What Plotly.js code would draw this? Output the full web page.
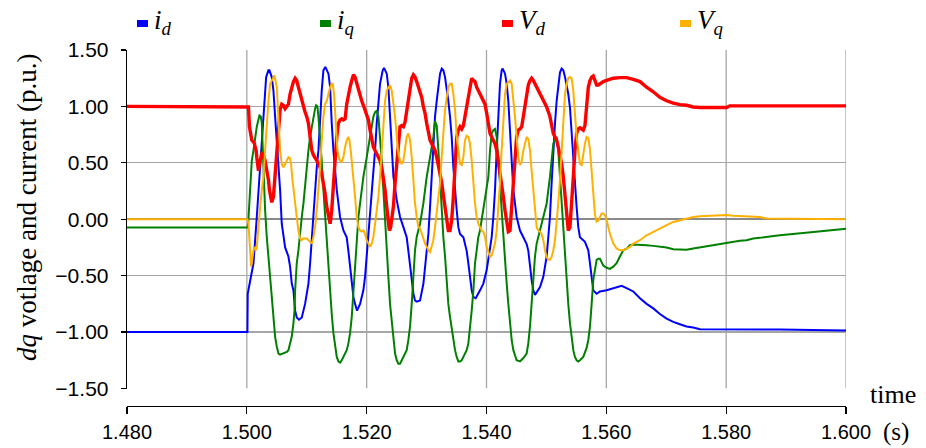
<!DOCTYPE html>
<html>
<head>
<meta charset="utf-8">
<script src="https://cdn.plot.ly/plotly-3.0.1.min.js"></script>
<style>html,body{margin:0;padding:0;background:#fff;}#chart{width:926px;height:448px;}</style>
</head>
<body>
<div id="chart"></div>
<script>
// ---------- data (time in s, values in p.u.) ----------
const seriesNames = ['<i>i</i><sub><i>d</i></sub>', '<i>i</i><sub><i>q</i></sub>', '<i>V</i><sub><i>d</i></sub>', '<i>V</i><sub><i>q</i></sub>'];
const seriesColors = ['#0000ff', '#008000', '#ff0000', '#ffb000'];
const xTicks = [1.48, 1.50, 1.52, 1.54, 1.56, 1.58, 1.60];
const yTicks = [-1.5, -1.0, -0.5, 0.0, 0.5, 1.0, 1.5];

const tId = [
1.48, 1.5001, 1.50015, 1.5005, 1.50111, 1.50166, 1.50222, 1.50277, 1.50322, 1.5036,
1.50377, 1.50416, 1.50444, 1.50472, 1.50511, 1.50555, 1.50583, 1.50639, 1.50694, 1.50722,
1.5075, 1.50778, 1.50806, 1.50833, 1.5087, 1.50917, 1.50972, 1.51028, 1.51056, 1.51084,
1.51111, 1.51139, 1.51167, 1.51195, 1.51223, 1.5125, 1.51278, 1.5131, 1.51362, 1.5139,
1.51417, 1.51445, 1.51501, 1.51556, 1.51612, 1.51667, 1.51695, 1.51723, 1.51751, 1.51779,
1.51806, 1.5184, 1.5189, 1.51945, 1.51973, 1.52001, 1.52029, 1.52085, 1.5214, 1.52168,
1.52223, 1.52268, 1.5229, 1.52335, 1.52362, 1.5239, 1.52418, 1.52446, 1.52502, 1.52557,
1.52613, 1.52668, 1.52696, 1.52724, 1.52752, 1.5278, 1.52807, 1.52835, 1.52891, 1.52947,
1.53002, 1.5303, 1.53058, 1.53086, 1.53113, 1.53141, 1.53169, 1.53197, 1.53225, 1.53253,
1.5328, 1.53308, 1.53336, 1.53363, 1.53391, 1.53419, 1.53447, 1.53475, 1.53503, 1.5353,
1.53558, 1.53614, 1.53641, 1.53669, 1.53697, 1.53725, 1.53753, 1.53781, 1.5382, 1.53892,
1.53947, 1.54003, 1.54059, 1.54086, 1.54114, 1.54142, 1.5417, 1.54197, 1.54225, 1.54253,
1.5427, 1.54309, 1.54337, 1.54364, 1.54392, 1.5442, 1.54448, 1.54503, 1.54559, 1.54615,
1.5467, 1.54698, 1.54726, 1.54753, 1.54781, 1.5481, 1.54893, 1.54948, 1.55004, 1.55031,
1.55059, 1.55087, 1.55115, 1.55143, 1.55171, 1.55198, 1.55226, 1.55254, 1.55282, 1.5531,
1.55337, 1.55365, 1.55393, 1.55421, 1.55449, 1.55476, 1.55504, 1.55532, 1.5556, 1.55643,
1.55699, 1.55727, 1.55755, 1.55782, 1.55838, 1.55894, 1.56005, 1.56116, 1.56255, 1.56338,
1.5645, 1.56561, 1.56672, 1.56783, 1.56894, 1.57006, 1.57117, 1.57228, 1.57339, 1.5745,
1.57562, 1.5889, 1.6];
const idVals = [
-1.0, -1.0, -0.66, -0.55, -0.39, 0.02, 0.46, 0.91, 1.26, 1.32,
1.32, 1.26, 1.14, 0.91, 0.61, 0.26, -0.04, -0.25, -0.33, -0.42,
-0.57, -0.63, -0.81, -0.87, -0.89, -0.87, -0.75, -0.57, -0.39, -0.16,
0.02, 0.26, 0.46, 0.61, 0.91, 1.14, 1.32, 1.35, 1.29, 1.17,
0.85, 0.61, 0.26, 0.02, -0.10, -0.16, -0.28, -0.42, -0.57, -0.69,
-0.75, -0.81, -0.75, -0.63, -0.51, -0.33, -0.10, 0.26, 0.61, 0.85,
1.20, 1.32, 1.34, 1.29, 1.17, 0.91, 0.61, 0.38, 0.17, 0.02,
-0.07, -0.16, -0.28, -0.42, -0.57, -0.66, -0.72, -0.73, -0.72, -0.57,
-0.28, -0.13, 0.11, 0.38, 0.61, 0.91, 1.05, 1.20, 1.29, 1.335,
1.32, 1.26, 1.17, 1.05, 0.91, 0.73, 0.46, 0.23, 0.08, -0.07,
-0.13, -0.16, -0.22, -0.28, -0.39, -0.51, -0.63, -0.69, -0.70, -0.63,
-0.57, -0.45, -0.28, -0.16, 0.02, 0.26, 0.61, 0.97, 1.20, 1.32,
1.335, 1.29, 1.20, 1.05, 0.76, 0.46, 0.26, 0.02, -0.10, -0.16,
-0.22, -0.28, -0.42, -0.54, -0.63, -0.67, -0.60, -0.51, -0.33, -0.16,
0.02, 0.32, 0.61, 0.85, 1.05, 1.20, 1.30, 1.335, 1.32, 1.26,
1.20, 1.11, 0.99, 0.76, 0.46, 0.31, 0.11, -0.07, -0.16, -0.20,
-0.275, -0.39, -0.51, -0.63, -0.66, -0.64, -0.63, -0.61, -0.59, -0.61,
-0.64, -0.70, -0.75, -0.79, -0.84, -0.88, -0.91, -0.93, -0.95, -0.96,
-0.975, -0.978, -0.985];

const tIq = [
1.48, 1.5001, 1.50022, 1.50044, 1.50083, 1.50111, 1.50138, 1.50166, 1.5021, 1.50233,
1.5025, 1.50266, 1.50289, 1.50305, 1.50333, 1.50361, 1.50389, 1.50416, 1.50444, 1.50472,
1.505, 1.50528, 1.50555, 1.50611, 1.50667, 1.50694, 1.50722, 1.5075, 1.50778, 1.50795,
1.50806, 1.50833, 1.50861, 1.50889, 1.50917, 1.50945, 1.50972, 1.51, 1.51028, 1.51056,
1.51084, 1.51111, 1.51139, 1.51156, 1.51178, 1.51195, 1.51223, 1.5125, 1.51278, 1.51306,
1.51334, 1.51362, 1.5139, 1.51417, 1.51445, 1.51473, 1.51501, 1.51528, 1.51556, 1.51584,
1.51612, 1.51667, 1.51695, 1.51723, 1.51751, 1.51779, 1.51806, 1.51834, 1.51862, 1.5189,
1.51917, 1.51945, 1.52001, 1.52057, 1.52112, 1.5214, 1.52168, 1.52196, 1.52223, 1.52251,
1.52279, 1.52307, 1.52335, 1.52362, 1.5239, 1.52418, 1.52446, 1.52474, 1.52502, 1.52529,
1.52557, 1.52585, 1.52613, 1.52668, 1.52696, 1.52724, 1.52752, 1.5278, 1.52807, 1.52835,
1.52891, 1.52946, 1.53002, 1.53058, 1.53113, 1.53141, 1.53169, 1.53197, 1.53225, 1.53252,
1.5328, 1.53308, 1.53336, 1.53363, 1.53391, 1.53419, 1.53447, 1.53475, 1.53503, 1.5353,
1.53558, 1.53586, 1.53614, 1.53669, 1.53697, 1.53725, 1.53753, 1.53781, 1.53808, 1.53836,
1.53864, 1.53892, 1.53947, 1.54003, 1.54031, 1.54059, 1.54086, 1.54114, 1.54142, 1.5417,
1.54197, 1.54225, 1.54253, 1.54281, 1.54309, 1.54337, 1.54364, 1.54392, 1.5442, 1.54448,
1.54503, 1.54559, 1.54615, 1.5467, 1.54698, 1.54726, 1.54753, 1.54781, 1.54809, 1.54837,
1.54893, 1.54948, 1.55004, 1.55059, 1.55087, 1.55115, 1.55143, 1.55171, 1.55198, 1.55226,
1.55254, 1.55282, 1.5531, 1.55337, 1.55365, 1.55393, 1.55421, 1.55449, 1.55476, 1.55504,
1.55532, 1.5556, 1.55615, 1.55671, 1.55699, 1.55727, 1.55755, 1.55782, 1.5581, 1.55838,
1.55865, 1.55893, 1.55921, 1.55949, 1.56005, 1.5606, 1.56116, 1.56171, 1.56227, 1.56283,
1.56338, 1.56394, 1.5645, 1.56561, 1.56672, 1.56783, 1.56894, 1.57006, 1.57117, 1.57228,
1.57339, 1.5745, 1.57562, 1.57673, 1.57784, 1.57896, 1.58006, 1.58118, 1.58229, 1.5834,
1.58451, 1.58562, 1.58674, 1.58785, 1.58896, 1.595, 1.6];
const iqVals = [
-0.074, -0.074, -0.04, 0.20, 0.52, 0.61, 0.70, 0.82, 0.92, 0.91,
0.85, 0.61, 0.32, 0.08, -0.16, -0.33, -0.51, -0.63, -0.865, -1.04,
-1.13, -1.19, -1.20, -1.19, -1.175, -1.16, -1.10, -1.04, -0.92, -0.81,
-0.63, -0.39, -0.275, -0.10, 0.02, 0.14, 0.32, 0.49, 0.61, 0.73,
0.82, 0.91, 0.98, 1.01, 1.00, 0.91, 0.73, 0.52, 0.26, 0.02,
-0.22, -0.42, -0.63, -0.84, -1.01, -1.13, -1.22, -1.26, -1.27, -1.25,
-1.22, -1.16, -1.10, -1.01, -0.865, -0.63, -0.42, -0.16, 0.02, 0.14,
0.26, 0.375, 0.55, 0.73, 0.91, 0.95, 0.96, 0.91, 0.73, 0.52,
0.26, -0.04, -0.275, -0.51, -0.75, -0.92, -1.07, -1.19, -1.25, -1.28,
-1.28, -1.25, -1.22, -1.16, -1.07, -0.95, -0.75, -0.45, -0.275, -0.157,
-0.04, 0.14, 0.375, 0.55, 0.73, 0.87, 0.83, 0.61, 0.32, 0.08,
-0.16, -0.33, -0.57, -0.75, -0.865, -0.98, -1.07, -1.16, -1.22, -1.26,
-1.26, -1.25, -1.22, -1.16, -1.10, -0.98, -0.81, -0.63, -0.39, -0.275,
-0.157, -0.097, 0.08, 0.257, 0.375, 0.61, 0.76, 0.79, 0.80, 0.73,
0.55, 0.32, 0.08, -0.157, -0.39, -0.57, -0.75, -0.92, -1.07, -1.16,
-1.25, -1.26, -1.23, -1.19, -1.10, -0.95, -0.75, -0.51, -0.33, -0.216,
-0.097, 0.02, 0.14, 0.375, 0.55, 0.67, 0.71, 0.73, 0.61, 0.375,
0.14, -0.097, -0.33, -0.57, -0.75, -0.92, -1.07, -1.16, -1.22, -1.25,
-1.26, -1.25, -1.22, -1.14, -1.07, -0.95, -0.75, -0.54, -0.45, -0.36,
-0.35, -0.35, -0.38, -0.41, -0.43, -0.44, -0.42, -0.39, -0.33, -0.275,
-0.26, -0.23, -0.224, -0.224, -0.23, -0.236, -0.245, -0.25, -0.266, -0.27,
-0.27, -0.26, -0.25, -0.24, -0.23, -0.216, -0.21, -0.20, -0.19, -0.186,
-0.17, -0.165, -0.157, -0.145, -0.142, -0.11, -0.085];

const tVd = [
1.48, 1.5001, 1.50027, 1.50044, 1.50055, 1.50072, 1.50083, 1.50111, 1.50127, 1.50138,
1.50155, 1.50166, 1.50178, 1.50194, 1.5021, 1.50233, 1.5025, 1.50277, 1.50305, 1.50333,
1.50361, 1.50377, 1.504, 1.50416, 1.50444, 1.50461, 1.50489, 1.50511, 1.50528, 1.50555,
1.50583, 1.50611, 1.50639, 1.50667, 1.50694, 1.50722, 1.5075, 1.50778, 1.50806, 1.50833,
1.50861, 1.50889, 1.50917, 1.50945, 1.50972, 1.51, 1.51028, 1.51056, 1.51084, 1.51111,
1.51139, 1.51167, 1.51195, 1.51223, 1.5125, 1.51278, 1.51306, 1.51334, 1.51362, 1.5139,
1.51417, 1.51445, 1.51473, 1.51501, 1.51528, 1.51556, 1.51584, 1.51612, 1.5164, 1.51667,
1.51695, 1.51723, 1.51751, 1.51779, 1.51806, 1.51834, 1.51862, 1.5189, 1.51917, 1.51945,
1.51973, 1.52001, 1.52029, 1.52057, 1.52085, 1.52112, 1.5214, 1.52168, 1.52196, 1.52223,
1.52251, 1.52279, 1.52307, 1.52335, 1.52362, 1.52379, 1.52401, 1.52418, 1.52446, 1.52474,
1.52502, 1.52529, 1.52557, 1.52585, 1.52613, 1.5264, 1.52668, 1.52696, 1.52724, 1.52752,
1.5278, 1.52807, 1.52835, 1.52863, 1.52891, 1.52919, 1.52947, 1.52974, 1.53002, 1.5303,
1.53058, 1.53086, 1.53113, 1.53141, 1.53169, 1.53197, 1.53225, 1.53252, 1.5328, 1.53308,
1.53336, 1.53363, 1.53391, 1.53419, 1.53447, 1.53475, 1.53503, 1.5353, 1.53558, 1.53586,
1.53614, 1.53641, 1.53669, 1.53697, 1.53725, 1.53753, 1.53781, 1.53808, 1.53836, 1.53864,
1.53892, 1.53919, 1.53947, 1.53975, 1.54003, 1.54031, 1.54059, 1.54086, 1.54114, 1.54142,
1.5417, 1.54197, 1.54225, 1.54253, 1.54281, 1.54309, 1.54337, 1.54364, 1.54392, 1.5442,
1.54448, 1.54475, 1.54503, 1.54531, 1.54559, 1.54587, 1.54615, 1.54642, 1.5467, 1.54698,
1.54726, 1.54753, 1.54781, 1.54809, 1.54837, 1.54865, 1.54893, 1.5492, 1.54948, 1.55004,
1.55059, 1.55087, 1.55115, 1.55143, 1.55171, 1.55198, 1.55226, 1.55254, 1.55282, 1.5531,
1.55337, 1.55365, 1.55393, 1.55421, 1.55449, 1.55476, 1.55504, 1.55532, 1.5556, 1.55588,
1.55615, 1.55643, 1.55671, 1.55699, 1.55727, 1.55755, 1.55782, 1.5581, 1.55838, 1.55866,
1.55894, 1.55949, 1.56005, 1.56116, 1.56227, 1.56338, 1.5645, 1.56561, 1.56672, 1.56783,
1.56894, 1.57006, 1.57117, 1.57228, 1.57339, 1.5745, 1.57562, 1.58006, 1.5806, 1.6];
const vdVals = [
1.0, 1.0, 0.995, 0.82, 0.79, 0.73, 0.70, 0.685, 0.67, 0.64,
0.61, 0.55, 0.49, 0.43, 0.49, 0.55, 0.58, 0.57, 0.52, 0.43,
0.35, 0.26, 0.17, 0.15, 0.20, 0.32, 0.52, 0.64, 0.82, 0.97,
1.02, 1.01, 0.98, 0.995, 1.02, 1.11, 1.17, 1.22, 1.25, 1.23,
1.17, 1.11, 1.05, 0.995, 0.95, 0.91, 0.85, 0.73, 0.61, 0.57,
0.55, 0.52, 0.49, 0.46, 0.40, 0.32, 0.23, 0.11, 0.02, -0.04,
0.08, 0.26, 0.52, 0.73, 0.85, 0.88, 0.89, 0.88, 0.89, 1.02,
1.11, 1.17, 1.23, 1.28, 1.26, 1.20, 1.14, 1.08, 1.05, 1.01,
0.97, 0.94, 0.88, 0.79, 0.70, 0.64, 0.61, 0.58, 0.55, 0.52,
0.46, 0.375, 0.26, 0.11, -0.04, -0.10, -0.07, -0.01, 0.11, 0.32,
0.52, 0.70, 0.82, 0.83, 0.82, 0.86, 0.97, 1.08, 1.17, 1.25,
1.28, 1.26, 1.22, 1.17, 1.14, 1.08, 0.995, 0.94, 0.85, 0.76,
0.70, 0.67, 0.64, 0.61, 0.55, 0.49, 0.40, 0.32, 0.20, 0.08,
-0.01, -0.10, -0.10, -0.01, 0.20, 0.49, 0.73, 0.79, 0.82, 0.80,
0.83, 0.91, 0.995, 1.11, 1.20, 1.25, 1.23, 1.22, 1.17, 1.14,
1.11, 1.08, 1.05, 1.02, 0.94, 0.82, 0.76, 0.73, 0.70, 0.67,
0.61, 0.52, 0.43, 0.32, 0.20, 0.08, -0.04, -0.11, -0.10, 0.08,
0.32, 0.52, 0.73, 0.79, 0.80, 0.82, 0.91, 1.02, 1.11, 1.19,
1.23, 1.25, 1.23, 1.20, 1.17, 1.14, 1.11, 1.08, 1.05, 0.995,
0.91, 0.82, 0.76, 0.73, 0.70, 0.64, 0.58, 0.49, 0.375, 0.20,
0.02, -0.10, -0.07, 0.11, 0.375, 0.61, 0.76, 0.80, 0.81, 0.80,
0.79, 0.83, 1.02, 1.17, 1.23, 1.26, 1.27, 1.22, 1.19, 1.19,
1.20, 1.22, 1.23, 1.25, 1.255, 1.255, 1.24, 1.22, 1.17, 1.13,
1.08, 1.05, 1.03, 1.016, 1.01, 0.995, 0.99, 0.99, 1.005, 1.005];

const tVq = [
1.48, 1.5001, 1.50027, 1.50044, 1.50055, 1.50072, 1.50089, 1.50111, 1.50138, 1.50155,
1.50166, 1.50194, 1.50222, 1.5025, 1.50277, 1.50305, 1.50333, 1.50361, 1.50389, 1.50416,
1.50444, 1.50461, 1.50478, 1.505, 1.50517, 1.50533, 1.50555, 1.50583, 1.50611, 1.50639,
1.50667, 1.50694, 1.50722, 1.50739, 1.50756, 1.50778, 1.50806, 1.50833, 1.50861, 1.50889,
1.50917, 1.50945, 1.51, 1.51028, 1.51056, 1.51084, 1.51111, 1.51139, 1.51167, 1.51195,
1.51223, 1.5125, 1.51278, 1.51306, 1.51334, 1.51362, 1.5139, 1.51417, 1.51434, 1.51456,
1.51473, 1.5149, 1.51512, 1.51534, 1.51556, 1.51584, 1.51612, 1.5164, 1.51667, 1.51695,
1.51712, 1.51734, 1.51756, 1.51779, 1.51806, 1.51834, 1.51862, 1.5189, 1.51917, 1.51945,
1.51973, 1.52001, 1.52029, 1.52057, 1.52085, 1.52112, 1.5214, 1.52168, 1.52196, 1.52223,
1.52251, 1.52279, 1.52307, 1.52335, 1.52362, 1.5239, 1.52418, 1.52446, 1.52474, 1.52502,
1.52529, 1.52557, 1.52585, 1.52613, 1.5264, 1.52668, 1.52696, 1.52724, 1.52752, 1.5278,
1.52807, 1.52835, 1.52863, 1.52891, 1.52919, 1.52947, 1.52974, 1.53002, 1.5303, 1.53058,
1.53086, 1.53113, 1.53141, 1.53169, 1.53197, 1.53225, 1.53252, 1.5328, 1.53308, 1.53336,
1.53363, 1.53391, 1.53419, 1.53447, 1.53475, 1.53503, 1.5353, 1.53558, 1.53586, 1.53614,
1.53641, 1.53669, 1.53697, 1.53725, 1.53753, 1.53781, 1.53808, 1.53836, 1.53864, 1.53892,
1.53919, 1.53947, 1.53975, 1.54003, 1.54031, 1.54059, 1.54086, 1.54114, 1.54142, 1.5417,
1.54197, 1.54225, 1.54253, 1.54281, 1.54309, 1.54337, 1.54364, 1.54392, 1.5442, 1.54448,
1.54475, 1.54503, 1.54531, 1.54559, 1.54587, 1.54615, 1.54642, 1.5467, 1.54698, 1.54726,
1.54753, 1.54781, 1.54809, 1.54837, 1.54865, 1.54893, 1.5492, 1.54948, 1.54976, 1.55004,
1.55031, 1.55059, 1.55087, 1.55115, 1.55143, 1.55171, 1.55198, 1.55226, 1.55254, 1.55282,
1.5531, 1.55337, 1.55365, 1.55393, 1.55421, 1.55449, 1.55476, 1.55504, 1.55532, 1.5556,
1.55588, 1.55615, 1.55643, 1.55671, 1.55699, 1.55727, 1.55755, 1.55782, 1.5581, 1.55838,
1.55866, 1.55894, 1.55921, 1.55949, 1.55977, 1.56005, 1.5606, 1.56116, 1.56171, 1.56227,
1.56283, 1.56338, 1.56394, 1.5645, 1.56561, 1.56672, 1.56783, 1.56894, 1.57006, 1.57117,
1.57228, 1.57339, 1.5745, 1.57562, 1.57673, 1.57784, 1.58006, 1.58118, 1.58229, 1.5834,
1.58562, 1.58674, 1.6];
const vqVals = [
0.0, 0.0, -0.04, -0.216, -0.33, -0.42, -0.36, -0.275, -0.245, -0.275,
-0.245, -0.04, 0.11, 0.26, 0.375, 0.61, 0.85, 1.05, 1.20, 1.23,
1.26, 1.275, 1.23, 1.17, 0.995, 0.76, 0.61, 0.49, 0.46, 0.49,
0.52, 0.55, 0.54, 0.49, 0.375, 0.26, 0.11, 0.02, -0.10, -0.17,
-0.186, -0.17, -0.17, -0.186, -0.20, -0.216, -0.157, -0.07, 0.08, 0.26,
0.46, 0.70, 0.91, 1.02, 1.05, 1.11, 1.17, 1.20, 1.20, 1.11,
0.97, 0.76, 0.61, 0.55, 0.52, 0.51, 0.55, 0.64, 0.70, 0.73,
0.70, 0.61, 0.46, 0.32, 0.20, 0.02, -0.07, -0.10, -0.11, -0.10,
-0.13, -0.186, -0.216, -0.245, -0.216, -0.157, -0.04, 0.08, 0.20, 0.375,
0.61, 0.91, 1.05, 1.14, 1.17, 1.19, 1.14, 1.02, 0.91, 0.73,
0.58, 0.52, 0.49, 0.52, 0.61, 0.73, 0.76, 0.70, 0.55, 0.32,
0.14, 0.02, -0.07, -0.08, -0.13, -0.17, -0.216, -0.245, -0.275, -0.29,
-0.245, -0.186, -0.07, 0.08, 0.20, 0.32, 0.55, 0.79, 0.97, 1.08,
1.17, 1.20, 1.20, 1.11, 0.97, 0.73, 0.61, 0.49, 0.48, 0.55,
0.70, 0.74, 0.73, 0.67, 0.52, 0.32, 0.14, 0.02, -0.04, -0.07,
-0.10, -0.11, -0.157, -0.245, -0.30, -0.334, -0.32, -0.275, -0.216, -0.10,
0.08, 0.32, 0.61, 0.91, 1.11, 1.20, 1.22, 1.23, 1.20, 1.08,
0.91, 0.73, 0.55, 0.48, 0.51, 0.61, 0.67, 0.73, 0.71, 0.61,
0.43, 0.26, 0.08, -0.07, -0.10, -0.11, -0.13, -0.186, -0.275, -0.334,
-0.36, -0.36, -0.334, -0.275, -0.186, -0.04, 0.14, 0.35, 0.61, 0.91,
1.11, 1.20, 1.25, 1.26, 1.25, 1.14, 0.91, 0.73, 0.61, 0.49,
0.48, 0.58, 0.67, 0.73, 0.72, 0.62, 0.42, 0.21, 0.04, -0.02,
-0.01, 0.02, 0.05, 0.05, 0.035, -0.01, -0.127, -0.216, -0.26, -0.275,
-0.275, -0.26, -0.245, -0.216, -0.186, -0.142, -0.11, -0.083, -0.053, -0.024,
-0.01, 0.006, 0.02, 0.027, 0.03, 0.035, 0.038, 0.032, 0.03, 0.027,
0.02, 0.006, 0.0];

// ---------- build ----------
const seriesX = [tId, tIq, tVd, tVq];
const seriesY = [idVals, iqVals, vdVals, vqVals];
const lineWidths = [2.0, 2.0, 3.4, 2.0];

const W = 926, H = 448, ML = 127, MR = 80, MT = 50, MB = 42;
const PW = W - ML - MR, PH = H - MT - MB;
const px = p => (p - ML) / PW;
const py = p => (H - MB - p) / PH;

const traces = seriesX.map((x, i) => ({
  x: x, y: seriesY[i], type: 'scatter', mode: 'lines',
  name: seriesNames[i], showlegend: false,
  line: {color: seriesColors[i], width: lineWidths[i]}
}));

const shapes = xTicks.filter(t => t > xTicks[0]).map(t => ({
  type: 'line', xref: 'x', yref: 'y', x0: t, x1: t, y0: yTicks[0], y1: yTicks[yTicks.length - 1],
  line: {color: '#a6a6a6', width: 1.3}, layer: 'below'
}));

const legendLeft = [137, 320, 502, 680];
legendLeft.forEach((lx, i) => {
  shapes.push({type: 'rect', xref: 'paper', yref: 'paper',
    x0: px(lx), x1: px(lx + 11), y0: py(27), y1: py(20),
    fillcolor: seriesColors[i], line: {width: 0}});
});

const serif = '"Liberation Serif", "Times New Roman", Times, serif';
const sans = '"Liberation Sans", Arial, Helvetica, sans-serif';
const annotations = legendLeft.map((lx, i) => ({
  xref: 'paper', yref: 'paper', x: px(lx + 15), y: py(22),
  xanchor: 'left', yanchor: 'middle', showarrow: false,
  text: seriesNames[i], font: {family: serif, size: 27, color: '#000'}
}));
annotations.push({xref: 'paper', yref: 'paper', x: px(27), y: py(208), xanchor: 'center', yanchor: 'middle',
  showarrow: false, textangle: -90, text: '<i>dq</i> votlage and current (p.u.)',
  font: {family: serif, size: 27, color: '#000'}});
annotations.push({xref: 'paper', yref: 'paper', x: px(893), y: py(394), xanchor: 'center', yanchor: 'middle',
  showarrow: false, text: 'time', font: {family: serif, size: 26, color: '#000'}});
annotations.push({xref: 'paper', yref: 'paper', x: px(896), y: py(432), xanchor: 'center', yanchor: 'middle',
  showarrow: false, text: '(s)', font: {family: serif, size: 25, color: '#000'}});

const layout = {
  width: W, height: H,
  margin: {l: ML, r: MR, t: MT, b: MB, pad: 0},
  paper_bgcolor: '#fff', plot_bgcolor: '#fff',
  showlegend: false,
  font: {family: sans, color: '#000'},
  xaxis: {
    anchor: 'free', position: 0, range: [xTicks[0], xTicks[xTicks.length - 1]],
    tickmode: 'array', tickvals: xTicks, tickformat: '.3f',
    showgrid: false, zeroline: false,
    showline: true, linecolor: '#000', linewidth: 1.3,
    ticks: 'outside', ticklen: 7, tickwidth: 1.3, tickcolor: '#000',
    ticklabelstandoff: 1,
    tickfont: {family: sans, size: 20, color: '#000'}
  },
  yaxis: {
    domain: [py(388.5), 1], range: [yTicks[0], yTicks[yTicks.length - 1]],
    tickmode: 'array', tickvals: yTicks, tickformat: '.2f',
    showgrid: true, gridcolor: '#a6a6a6', gridwidth: 1.3,
    zeroline: true, zerolinecolor: '#8a8a8a', zerolinewidth: 1.6,
    showline: true, linecolor: '#000', linewidth: 1.3,
    ticks: 'outside', ticklen: 5, tickwidth: 1.3, tickcolor: '#000',
    ticklabelstandoff: 8,
    tickfont: {family: sans, size: 21, color: '#000'}
  },
  shapes: shapes,
  annotations: annotations
};

Plotly.newPlot('chart', traces, layout, {staticPlot: true, displayModeBar: false});
</script>
</body>
</html>
